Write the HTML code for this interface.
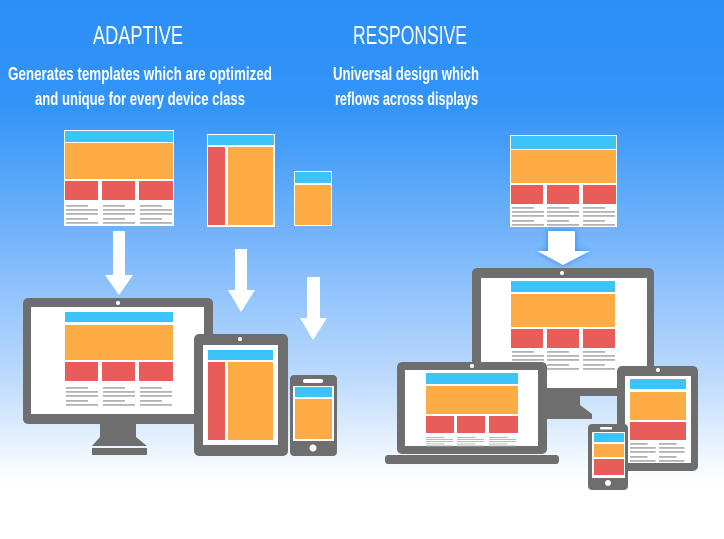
<!DOCTYPE html>
<html><head><meta charset="utf-8"><style>html,body{margin:0;padding:0;width:724px;height:539px;overflow:hidden}svg{display:block}</style></head><body>
<svg width="724" height="539" viewBox="0 0 724 539" xmlns="http://www.w3.org/2000/svg">
<defs>
<linearGradient id="bg" x1="0" y1="0" x2="0" y2="1">
<stop offset="0" stop-color="#2b8ff8"/>
<stop offset="0.2" stop-color="#3394f8"/>
<stop offset="0.45" stop-color="#78b6fb"/>
<stop offset="0.7" stop-color="#bcdafd"/>
<stop offset="0.86" stop-color="#f4f9ff"/>
<stop offset="0.9" stop-color="#ffffff"/>
<stop offset="1" stop-color="#ffffff"/>
</linearGradient>
<g id="ln" fill="#b3b3b3">
<rect x="0" y="0" width="22" height="1.8"/><rect x="0" y="4" width="32" height="1.8"/><rect x="0" y="8" width="32" height="1.8"/><rect x="0" y="13" width="22" height="1.8"/><rect x="0" y="17" width="32" height="1.8"/>
</g>
<filter id="glow" x="-50%" y="-50%" width="200%" height="200%"><feGaussianBlur stdDeviation="3"/></filter>
</defs>
<rect width="724" height="539" fill="url(#bg)"/>
<g fill="#fff" font-family="Liberation Sans, sans-serif" text-anchor="start">
<text x="93" y="44" font-size="26" textLength="90" lengthAdjust="spacingAndGlyphs">ADAPTIVE</text>
<text x="353" y="44" font-size="26" textLength="114" lengthAdjust="spacingAndGlyphs">RESPONSIVE</text>
<text x="8" y="80" font-size="18" font-weight="bold" textLength="264" lengthAdjust="spacingAndGlyphs">Generates templates which are optimized</text>
<text x="35" y="105" font-size="18" font-weight="bold" textLength="210" lengthAdjust="spacingAndGlyphs">and unique for every device class</text>
<text x="333" y="80" font-size="18" font-weight="bold" textLength="146" lengthAdjust="spacingAndGlyphs">Universal design which</text>
<text x="335" y="105" font-size="18" font-weight="bold" textLength="143" lengthAdjust="spacingAndGlyphs">reflows across displays</text>
</g>

<!-- ADAPTIVE templates -->
<rect x="64" y="130" width="110" height="96" fill="#fff"/>
<rect x="65" y="131" width="108" height="11" fill="#3cc3f7"/>
<rect x="65" y="143" width="108" height="36" fill="#fdac45"/>
<g fill="#e85c5a"><rect x="65" y="181" width="33" height="19"/><rect x="102" y="181" width="33" height="19"/><rect x="139" y="181" width="34" height="19"/></g>
<use href="#ln" x="66" y="205"/><use href="#ln" x="103" y="205"/><use href="#ln" x="140" y="205"/>

<rect x="207" y="134" width="68" height="93" fill="#fff"/>
<rect x="208" y="135" width="66" height="10" fill="#3cc3f7"/>
<rect x="208" y="147" width="17" height="78" fill="#e85c5a"/>
<rect x="228" y="147" width="45" height="78" fill="#fdac45"/>

<rect x="294" y="171" width="38" height="55" fill="#fff"/>
<rect x="295" y="172" width="36" height="11" fill="#3cc3f7"/>
<rect x="295" y="185" width="36" height="40" fill="#fdac45"/>

<!-- arrows -->
<g fill="#fff">
<polygon points="113,231 125,231 125,275 133,275 119,295 105,275 113,275"/>
<polygon points="235,249 247,249 247,290 255,290 241,312 228,290 235,290"/>
<polygon points="307,277 320,277 320,318 327,318 313,340 300,318 307,318"/>
</g>

<!-- adaptive monitor -->
<rect x="23" y="298" width="190" height="126" rx="5" fill="#6e6e6e"/>
<rect x="31" y="307" width="173" height="107" fill="#fff"/>
<circle cx="118" cy="303" r="2" fill="#fff"/>
<rect x="65" y="312" width="108" height="10" fill="#3cc3f7"/>
<rect x="65" y="325" width="108" height="35" fill="#fdac45"/>
<g fill="#e85c5a"><rect x="65" y="362" width="33" height="19"/><rect x="102" y="362" width="33" height="19"/><rect x="139" y="362" width="34" height="19"/></g>
<use href="#ln" x="66" y="387"/><use href="#ln" x="103" y="387"/><use href="#ln" x="140" y="387"/>
<polygon points="100,424 136,424 136,437 147,446 92,446 100,437" fill="#6e6e6e"/>
<rect x="92" y="448" width="55" height="7" fill="#6e6e6e"/>

<!-- adaptive tablet -->
<rect x="194" y="334" width="94" height="122" rx="5" fill="#6e6e6e"/>
<rect x="203" y="345" width="75" height="100" fill="#fff"/>
<circle cx="240" cy="339" r="2" fill="#fff"/>
<rect x="208" y="350" width="65" height="10" fill="#3cc3f7"/>
<rect x="208" y="362" width="17" height="78" fill="#e85c5a"/>
<rect x="228" y="362" width="45" height="78" fill="#fdac45"/>

<!-- adaptive phone -->
<rect x="290" y="375" width="47" height="81" rx="4" fill="#6e6e6e"/>
<rect x="293" y="386" width="41" height="55" fill="#fff"/>
<rect x="303" y="379" width="20" height="4" rx="2" fill="#fff"/>
<rect x="295" y="387" width="37" height="10" fill="#3cc3f7"/>
<rect x="295" y="399" width="37" height="40" fill="#fdac45"/>
<circle cx="313" cy="448" r="3.5" fill="#fff"/>

<!-- RESPONSIVE template -->
<rect x="510" y="135" width="107" height="92" fill="#fff"/>
<rect x="511" y="136" width="105" height="13" fill="#3cc3f7"/>
<rect x="511" y="150" width="105" height="33" fill="#fdac45"/>
<g fill="#e85c5a"><rect x="511" y="185" width="32" height="19"/><rect x="547" y="185" width="32" height="19"/><rect x="583" y="185" width="33" height="19"/></g>
<use href="#ln" x="512" y="207"/><use href="#ln" x="547" y="207"/><use href="#ln" x="583" y="207"/>

<polygon points="548,231 575,231 575,251 590,251 563,265 537,251 548,251" fill="#1a78d8" filter="url(#glow)" opacity="0.8"/>
<polygon points="548,231 575,231 575,251 590,251 563,265 537,251 548,251" fill="#fff"/>

<!-- responsive monitor -->
<rect x="472" y="268" width="182" height="128" rx="5" fill="#6e6e6e"/>
<rect x="481" y="278" width="166" height="110" fill="#fff"/>
<circle cx="562" cy="273" r="2" fill="#fff"/>
<rect x="511" y="281" width="104" height="11" fill="#3cc3f7"/>
<rect x="511" y="294" width="104" height="33" fill="#fdac45"/>
<g fill="#e85c5a"><rect x="511" y="329" width="32" height="19"/><rect x="547" y="329" width="32" height="19"/><rect x="583" y="329" width="32" height="19"/></g>
<use href="#ln" x="512" y="351"/><use href="#ln" x="547" y="351"/><use href="#ln" x="583" y="351"/>
<polygon points="545,396 580,396 580,405 592,414 540,414" fill="#6e6e6e"/>
<rect x="540" y="414" width="52" height="5" fill="#6e6e6e"/>

<!-- laptop -->
<rect x="397" y="362" width="150" height="92" rx="5" fill="#6e6e6e"/>
<rect x="405" y="370" width="133" height="76" fill="#fff"/>
<circle cx="472" cy="366" r="2" fill="#fff"/>
<rect x="385" y="455" width="174" height="9" rx="3" fill="#6e6e6e"/>
<rect x="426" y="373" width="92" height="11" fill="#3cc3f7"/>
<rect x="426" y="386" width="92" height="28" fill="#fdac45"/>
<g fill="#e85c5a"><rect x="426" y="416" width="28" height="17"/><rect x="457" y="416" width="28" height="17"/><rect x="489" y="416" width="29" height="17"/></g>
<g transform="translate(426,437) scale(0.85,0.5)"><use href="#ln"/></g>
<g transform="translate(457,437) scale(0.85,0.5)"><use href="#ln"/></g>
<g transform="translate(489,437) scale(0.85,0.5)"><use href="#ln"/></g>

<!-- responsive tablet -->
<rect x="617" y="366" width="81" height="105" rx="5" fill="#6e6e6e"/>
<rect x="625" y="376" width="66" height="87" fill="#fff"/>
<circle cx="658" cy="370" r="2" fill="#fff"/>
<rect x="630" y="379" width="56" height="10" fill="#3cc3f7"/>
<rect x="630" y="392" width="56" height="28" fill="#fdac45"/>
<rect x="630" y="422" width="56" height="18" fill="#e85c5a"/>
<g transform="translate(630,443) scale(0.8,1)"><use href="#ln"/></g>
<g transform="translate(659,443) scale(0.8,1)"><use href="#ln"/></g>

<!-- responsive phone -->
<rect x="588" y="424" width="40" height="66" rx="4" fill="#6e6e6e"/>
<rect x="592" y="432" width="33" height="46" fill="#fff"/>
<rect x="600" y="427" width="12" height="2.5" rx="1" fill="#fff"/>
<rect x="594" y="433" width="30" height="9" fill="#3cc3f7"/>
<rect x="594" y="444" width="30" height="13" fill="#fdac45"/>
<rect x="594" y="459" width="30" height="16" fill="#e85c5a"/>
<circle cx="608" cy="483" r="3" fill="#fff"/>
</svg>
</body></html>
